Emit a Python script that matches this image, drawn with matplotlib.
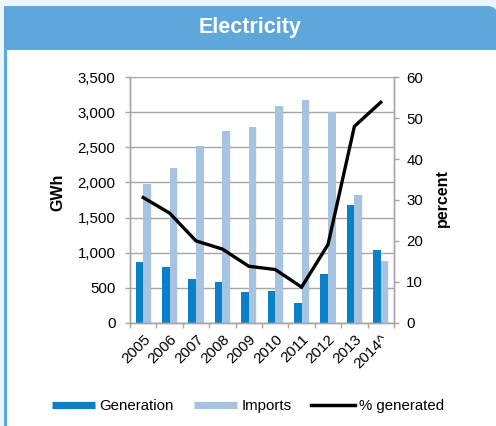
import numpy as np
import matplotlib
matplotlib.use("Agg")
import matplotlib.pyplot as plt
from matplotlib.patches import Rectangle, FancyBboxPatch
from matplotlib.lines import Line2D

plt.rcParams['font.family'] = ['Liberation Sans', 'DejaVu Sans']

# data
years = ["2005", "2006", "2007", "2008", "2009", "2010", "2011", "2012", "2013", "2014^"]
generation = [865, 790, 620, 587, 435, 447, 288, 692, 1678, 1034]
imports = [1975, 2205, 2515, 2730, 2788, 3090, 3178, 3000, 1817, 885]
pct_generated = [30.6, 26.8, 20.0, 18.0, 13.8, 13.0, 8.7, 19.1, 48.0, 53.9]

GEN_COL = "#0a80c8"
IMP_COL = "#a7c3e2"
GRID_COL = "#a6a6a6"
HEAD_COL = "#5fa6da"

W, H = 496, 426
fig = plt.figure(figsize=(W / 100, H / 100), dpi=100)
fig.patch.set_facecolor("#eaf6fd")


def fx(px):
    return px / W


def fy(py):
    return 1 - py / H


def frame_patch(p):
    p.set_zorder(-5)
    fig.patches.append(p)


# frame: blue header with left stripe, white body with a rounded corner
frame_patch(Rectangle((fx(4), 0), fx(3), fy(20), transform=fig.transFigure,
                      facecolor=HEAD_COL, edgecolor="none"))
frame_patch(Rectangle((fx(4), fy(50)), fx(470) - fx(4), fy(6) - fy(50),
                      transform=fig.transFigure, facecolor=HEAD_COL, edgecolor="none"))
frame_patch(FancyBboxPatch((fx(440), fy(120)), fx(497) - fx(440), fy(6) - fy(120),
                           boxstyle="round,pad=0,rounding_size=0.02",
                           transform=fig.transFigure,
                           facecolor=HEAD_COL, edgecolor="none"))
frame_patch(FancyBboxPatch((fx(7), fy(440)), fx(520) - fx(7), fy(50) - fy(440),
                           boxstyle="round,pad=0,rounding_size=0.015",
                           transform=fig.transFigure,
                           facecolor="white", edgecolor="none"))
fig.text(fx(250), fy(27), "Electricity", color="white", fontsize=15.5,
         fontweight="bold", ha="center", va="center")

ax = fig.add_axes([fx(130), fy(322.7), fx(394) - fx(130), fy(77.3) - fy(322.7)])
ax.set_facecolor("none")
ax2 = ax.twinx()

x = np.arange(len(years))
bw = 0.285
ax.bar(x - bw / 2, generation, bw, color=GEN_COL, zorder=2)
ax.bar(x + bw / 2 + 0.03, imports, bw, color="#000000", alpha=0.05, zorder=1.5)
ax.bar(x + bw / 2, imports, bw, color=IMP_COL, zorder=2)
ax2.plot(x, pct_generated, color="black", lw=2.4, solid_joinstyle="miter")

ax.set_xlim(-0.5, len(years) - 0.5)
ax.set_ylim(0, 3500)
ax.set_yticks(np.arange(0, 3501, 500))
ax.set_yticklabels([f"{v:,}" for v in range(0, 3501, 500)])
ax2.set_ylim(0, 60)
ax2.set_yticks(np.arange(0, 61, 10))

ax.set_axisbelow(True)
ax.yaxis.grid(True, color=GRID_COL, lw=1)
ax.set_xticks(x)
ax.set_xticklabels(years, rotation=45, ha="right", rotation_mode="anchor")
ax.set_xticks(np.arange(-0.5, len(years)), minor=True)
ax.tick_params(axis="x", which="major", length=0, pad=7, labelsize=11)
ax.tick_params(axis="x", which="minor", length=3.6, color=GRID_COL, width=1)
ax.tick_params(axis="y", length=3.6, color=GRID_COL, width=1, labelsize=10.8, pad=6.8)
ax2.tick_params(axis="y", length=3.6, color=GRID_COL, width=1, labelsize=10.8, pad=5.2)

for a in (ax, ax2):
    a.spines["top"].set_visible(False)
    for s in ("left", "right", "bottom"):
        a.spines[s].set_color(GRID_COL)
        a.spines[s].set_linewidth(1)

fig.text(fx(58), fy(192), "GWh", rotation=90, fontsize=11.5, fontweight="bold",
         ha="center", va="center")
fig.text(fx(442), fy(198), "percent", rotation=90, fontsize=11.5, fontweight="bold",
         ha="center", va="center")

handles = [Line2D([], [], color=GEN_COL, lw=5.2, solid_capstyle="butt"),
           Line2D([], [], color=IMP_COL, lw=5.2, solid_capstyle="butt"),
           Line2D([], [], color="black", lw=2.5)]
fig.legend(handles, ["Generation", "Imports", "% generated"], ncol=3,
           loc="center", bbox_to_anchor=(fx(248), fy(406)), frameon=False,
           fontsize=10.8, handlelength=2.9, handletextpad=0.3, columnspacing=1.3,
           borderaxespad=0, borderpad=0)

fig.savefig("out.png", dpi=100, facecolor=fig.get_facecolor())
